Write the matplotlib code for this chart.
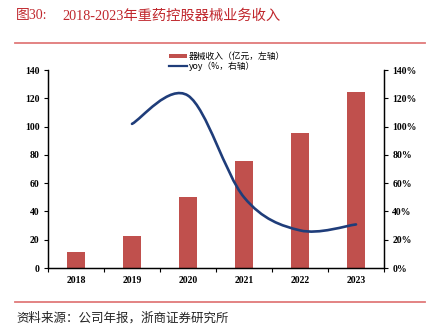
import matplotlib
matplotlib.use("Agg")
import matplotlib.pyplot as plt
import numpy as np
from matplotlib.path import Path
from matplotlib.patches import PathPatch, Patch
from matplotlib.lines import Line2D
from matplotlib.ticker import FixedLocator, PercentFormatter

plt.rcParams['font.family'] = ['Liberation Serif', 'Noto Sans CJK SC']

years = ['2018', '2019', '2020', '2021', '2022', '2023']
revenue = [11.1, 22.4, 49.9, 75.5, 95.3, 124.2]      # 亿元
yoy_years = ['2019', '2020', '2021', '2022', '2023']
yoy = [101.9, 121.9, 50.0, 26.6, 30.8]              # %

BAR_COLOR = '#C0504D'
LINE_COLOR = '#1F3D7A'
RED = '#C0272D'


def smooth_path(xs, ys):
    # excel-style smoothed line: catmull-rom turned into cubic bezier segments
    pts = np.column_stack([xs, ys]).astype(float)
    ext = np.vstack([pts[0], pts, pts[-1]])
    verts = [tuple(pts[0])]
    codes = [Path.MOVETO]
    for i in range(1, len(ext) - 2):
        p0, p1, p2, p3 = ext[i - 1], ext[i], ext[i + 1], ext[i + 2]
        c1 = p1 + (p2 - p0) / 6.0
        c2 = p2 - (p3 - p1) / 6.0
        verts += [tuple(c1), tuple(c2), tuple(p2)]
        codes += [Path.CURVE4] * 3
    return Path(verts, codes)


fig = plt.figure(figsize=(4.32, 3.31), dpi=100)
ax = fig.add_axes([48/432, 1-268/331, 336/432, 198/331])
ax2 = ax.twinx()

x = np.arange(len(years))
ax.bar(x, revenue, width=0.32, color=BAR_COLOR, zorder=2)
ax.set_xlim(-0.5, len(years) - 0.5)
ax.set_ylim(0, 140)
ax.set_yticks(np.arange(0, 141, 20))

ax2.set_ylim(0, 140)
ax2.set_yticks(np.arange(0, 141, 20))
ax2.yaxis.set_major_formatter(PercentFormatter(decimals=0))

xi = [years.index(y) for y in yoy_years]
ax2.add_patch(PathPatch(smooth_path(xi, yoy), facecolor='none',
                        edgecolor=LINE_COLOR, lw=1.9, capstyle='round', zorder=3))

ax.set_xticks(x)
ax.set_xticklabels(years)
ax.xaxis.set_minor_locator(FixedLocator(np.arange(-0.5, len(years), 1.0)))
ax.tick_params(axis='x', which='major', length=0, pad=6)
ax.tick_params(axis='x', which='minor', length=3, width=0.8, direction='out')
ax.tick_params(axis='y', length=3, width=0.8, direction='out', pad=3)
ax2.tick_params(axis='y', length=3, width=0.8, direction='out', pad=3)

for a in (ax, ax2):
    for lab in a.get_xticklabels() + a.get_yticklabels():
        lab.set_fontsize(7)
        lab.set_fontweight('bold')
    a.spines['top'].set_visible(False)
    for s in ('left', 'right', 'bottom'):
        a.spines[s].set_linewidth(0.9)

handles = [Patch(facecolor=BAR_COLOR, edgecolor='none'),
           Line2D([], [], color=LINE_COLOR, lw=1.6)]
fig.legend(handles, ['器械收入（亿元，左轴）', 'yoy（%，右轴）'],
           loc='upper left', bbox_to_anchor=(169/432, 1-52/331),
           frameon=False, prop={'family': ['Noto Sans CJK SC'], 'size': 6.3},
           handlelength=2.0, handleheight=0.45, handletextpad=0.3,
           labelspacing=0.05, borderpad=0, borderaxespad=0)

fig.text(16/432, 1-16/331, '图30:', color=RED, fontsize=10, va='center')
fig.text(62/432, 1-16/331, '2018-2023年重药控股器械业务收入', color=RED,
         fontsize=10.3, va='center')
fig.add_artist(Line2D([15/432, 425/432], [1-42.5/331, 1-42.5/331],
                      color='#E07A7A', lw=1.3, transform=fig.transFigure))
fig.add_artist(Line2D([15/432, 425/432], [1-302/331, 1-302/331],
                      color='#E07A7A', lw=1.3, transform=fig.transFigure))
fig.text(16/432, 1-318/331, '资料来源：公司年报，浙商证券研究所', color='#222222',
         fontsize=9, va='center', family=['Noto Sans CJK SC'])

fig.savefig('out.png', dpi=100)
